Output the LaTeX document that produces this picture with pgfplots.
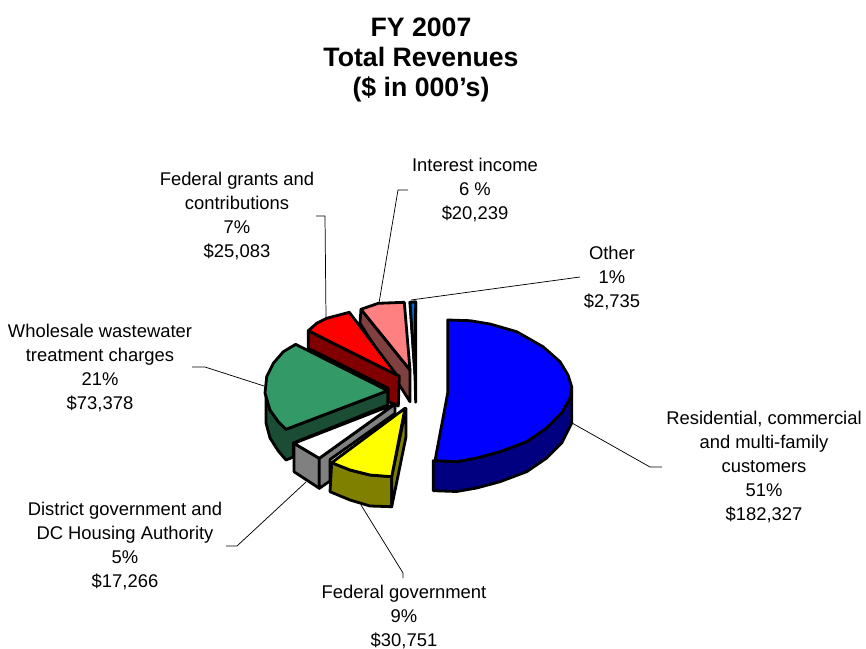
\documentclass[border=0pt]{standalone}
\usepackage{pgfplots}
\pgfplotsset{compat=1.18}
\usepackage{fontspec}
\setmainfont{Liberation Sans}
\definecolor{cBlue}{HTML}{0000FF}\definecolor{dBlue}{HTML}{000080}
\definecolor{cGreen}{HTML}{339966}\definecolor{dGreen}{HTML}{1A4D33}
\definecolor{cRed}{HTML}{FF0000}\definecolor{dRed}{HTML}{800000}
\definecolor{cPink}{HTML}{FF8080}\definecolor{dPink}{HTML}{804040}
\definecolor{cYel}{HTML}{FFFF00}\definecolor{dYel}{HTML}{808000}
\definecolor{cGray}{HTML}{808080}
\definecolor{cSky}{HTML}{0066CC}\definecolor{dSky}{HTML}{003366}
\tikzset{
 sl/.style={draw=black,line width=2.1pt,line join=round,fill=#1,mark=none},
 ld/.style={draw=black,line width=0.55pt,mark=none,fill=none},
 lb/.style={font=\fontsize{13.8pt}{18pt}\selectfont,align=center,anchor=center,inner sep=0pt,text=black}}
\begin{document}
\begin{tikzpicture}
\begin{axis}[scale only axis,width=649.5pt,height=486pt,xmin=0,xmax=866,ymin=0,ymax=648,y dir=reverse,hide axis,clip=false]
% invisible frame keeps the picture the size of the reference
\addplot[draw=none,mark=none] coordinates {(0,0)(866,648)};
% leader lines
\addplot[ld] coordinates {(411,300)(580,277)};
\addplot[ld] coordinates {(379,303)(398,190)(408,190)};
\addplot[ld] coordinates {(326,318)(325,216)(316,216)};
\addplot[ld] coordinates {(264,386)(205,367)(192,367)};
\addplot[ld] coordinates {(572,423)(650,467)(662,467)};
\addplot[ld] coordinates {(361,505)(403,573)(403,578)};
\addplot[ld] coordinates {(306,482)(237,546)(226,546)};
% blue
\addplot[sl=dBlue] coordinates {(571.7,386.7)(571.7,423)(561.7,443)(546.7,458)(526.7,471.7)(500,481.7)(476.7,488)(456.7,491.5)(433.3,490.7)(433.3,460.7)(456.7,461.7)(476.7,458)(500,451.7)(526.7,441.7)(546.7,428)(561.7,413)(570,398)} --cycle;
\addplot[sl=cBlue] coordinates {(447.7,320)(470,320.7)(490,324)(516.7,331.7)(543,346.7)(560,361.7)(568,375)(571.7,386.7)(570,398)(561.7,413)(546.7,428)(526.7,441.7)(500,451.7)(476.7,458)(456.7,461.7)(435,460.7)(447.7,393)} --cycle;
% other
\addplot[sl=dSky] coordinates {(410,302.3)(415,375)(415.7,402.3)(415.7,302)} --cycle;
\addplot[sl=cSky] coordinates {(410,302.3)(415.7,302)(415,375)} --cycle;
% pink
\addplot[sl=dPink] coordinates {(361,309.3)(360,323.3)(410,401.7)(410,370)} --cycle;
\addplot[sl=cPink] coordinates {(361,309.3)(378.3,303.3)(404.3,302.3)(410,370)} --cycle;
% red
\addplot[sl=dRed] coordinates {(308.3,330.7)(308.3,348.3)(388.3,388.3)(388.3,401.7)(398.3,406)(399.3,376)} --cycle;
\addplot[sl=cRed] coordinates {(349.3,312.3)(326.7,318.3)(316.7,323.3)(308.3,330.7)(396.7,375)} --cycle;
% green
\addplot[sl=dGreen] coordinates {(266,393)(266,423)(270,438)(278.3,451)(286,460)(293.3,457)(293.3,443)(387.7,405)(387.7,390.7)(286,429.3)(278.3,421.7)(270,410)} --cycle;
\addplot[sl=cGreen] coordinates {(295.7,344.3)(283.3,351.7)(273.3,363.3)(266.7,376.7)(265,393)(270,410)(278.3,421.7)(286,429.3)(387.7,390.7)} --cycle;
% white / gray
\addplot[sl=cGray] coordinates {(294,443.3)(294,471.7)(319.3,488.3)(319.3,458.3)} --cycle;
\addplot[sl=cGray] coordinates {(319.3,458.3)(319.3,488.3)(330,481)(330,459.5)(395,413.5)(395,404)} --cycle;
\addplot[sl=white] coordinates {(395,404)(294,443.3)(319.3,458.3)} --cycle;
% yellow
\addplot[sl=dYel] coordinates {(331.7,462.7)(330,491.7)(350,500)(370,506)(391.7,506.7)(391.7,476.7)(370,475)(350,470)} --cycle;
\addplot[sl=dYel] coordinates {(391.7,476.7)(391.7,506.7)(406,436.7)(406,408.3)} --cycle;
\addplot[sl=cYel] coordinates {(405,408.3)(331.7,462.7)(350,470)(370,475)(391.7,476.7)} --cycle;
% texts
\node[font=\bfseries\fontsize{20pt}{22.5pt}\selectfont,align=center,anchor=center,inner sep=0pt] at (axis cs:421,60) {FY 2007\\Total Revenues\\(\$ in 000’s)};
\node[lb] at (axis cs:475,190) {Interest income\\6 \%\\\$20,239};
\node[lb] at (axis cs:237,216) {Federal grants and\\contributions\\7\%\\\$25,083};
\node[lb] at (axis cs:612,278) {Other\\1\%\\\$2,735};
\node[lb] at (axis cs:100,368) {Wholesale wastewater\\treatment charges\\21\%\\\$73,378};
\node[lb] at (axis cs:764,467) {Residential, commercial\\and multi-family\\customers\\51\%\\\$182,327};
\node[lb] at (axis cs:125,546) {District government and\\DC Housing Authority\\5\%\\\$17,266};
\node[lb] at (axis cs:404,617) {Federal government\\9\%\\\$30,751};
\end{axis}
\end{tikzpicture}
\end{document}
